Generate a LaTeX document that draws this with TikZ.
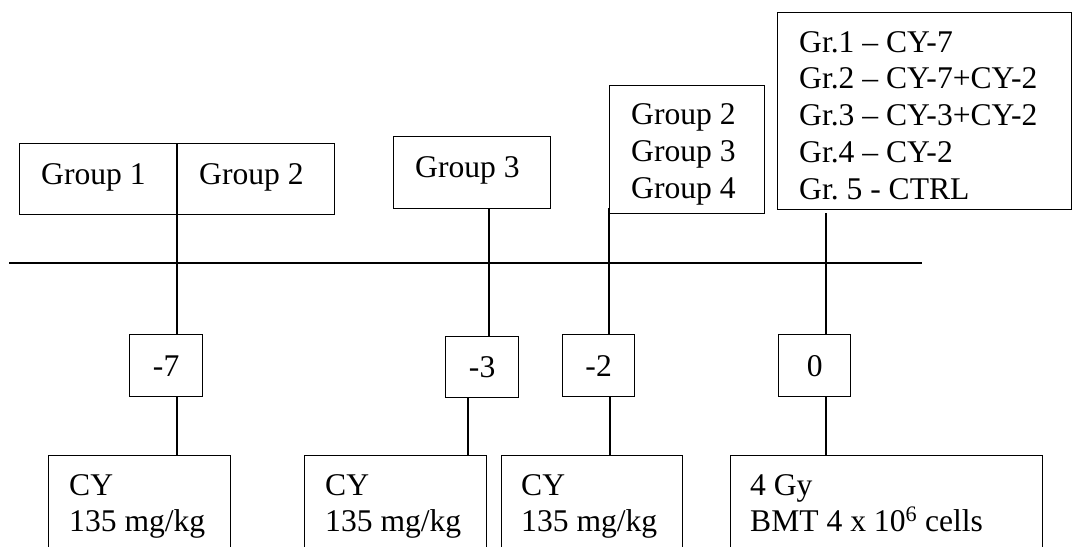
\documentclass[tikz,border=0pt]{standalone}
\usepackage{fontspec}
\setmainfont{Liberation Serif}
\frenchspacing
\begin{document}
\begin{tikzpicture}[x=1pt,y=-1pt,
  box/.style={draw, line width=1.3pt, inner sep=0pt, anchor=north west},
  num/.style={draw, line width=1.3pt, inner sep=0pt, anchor=north west, font=\fontsize{31.6}{37}\selectfont},
  lbl/.style={anchor=base west, inner sep=0pt, font=\fontsize{31.6}{37}\selectfont},
  conn/.style={line width=1.3pt}]
\useasboundingbox (0,0) rectangle (1073,546);
\clip (0,0) rectangle (1073,546);
\fill[white] (0,0) rectangle (1073,546);

% timeline
\coordinate (tl0) at (9,263);
\coordinate (tl1) at (922,263);
\draw[conn] (tl0) -- (tl1);

% top boxes
\node[box, minimum width=315pt, minimum height=71pt] (g12) at (19,143) {};
\node[box, minimum width=157pt, minimum height=72pt] (g3) at (393,136) {};
\node[box, minimum width=155pt, minimum height=128pt] (g234) at (609,85) {};
\node[box, minimum width=294pt, minimum height=197pt] (leg) at (777,12) {};

\node[lbl] (t1) at (41,184) {Group 1};
\node[lbl] (t2) at (199,184) {Group 2};
\node[lbl] (t3) at (415,177) {Group 3};
\node[lbl] (t4) at (631,124) {Group 2};
\node[lbl] (t5) at (631,161) {Group 3};
\node[lbl] (t6) at (631,198) {Group 4};
\node[lbl] (l1) at (799,52) {Gr.1 – CY-7};
\node[lbl] (l2) at (799,88) {Gr.2 – CY-7+CY-2};
\node[lbl] (l3) at (799,125) {Gr.3 – CY-3+CY-2};
\node[lbl] (l4) at (799,162) {Gr.4 – CY-2};
\node[lbl] (l5) at (799,199) {Gr. 5 - CTRL};

% day boxes
\node[num, minimum width=73pt, minimum height=62pt] (m7) at (129,334) {-7};
\node[num, minimum width=73pt, minimum height=61pt] (m3) at (445,336) {-3};
\node[num, minimum width=72pt, minimum height=62pt] (m2) at (562,334) {-2};
\node[num, minimum width=72pt, minimum height=62pt] (m0) at (778,334) {0};

% bottom boxes
\node[box, minimum width=182pt, minimum height=110pt] (cy1) at (48,455) {};
\node[box, minimum width=182pt, minimum height=110pt] (cy2) at (304,455) {};
\node[box, minimum width=181pt, minimum height=110pt] (cy3) at (501,455) {};
\node[box, minimum width=312pt, minimum height=110pt] (bmt) at (730,455) {};

\node[lbl] (c1a) at (69,495) {CY};
\node[lbl] (c1b) at (69,531) {135 mg/kg};
\node[lbl] (c2a) at (325,495) {CY};
\node[lbl] (c2b) at (325,531) {135 mg/kg};
\node[lbl] (c3a) at (521,495) {CY};
\node[lbl] (c3b) at (521,531) {135 mg/kg};
\node[lbl] (c4a) at (750,495) {4 Gy};
\node[lbl] (c4b) at (750,531) {BMT 4 x 10\textsuperscript{6} cells};

% connectors
\coordinate (k7a) at (177,143);
\coordinate (k7b) at (177,396);
\coordinate (k3a) at (489,208);
\coordinate (k3b) at (468,397);
\coordinate (k2a) at (609,208);
\coordinate (k2b) at (610,396);
\coordinate (k0a) at (826,213);
\coordinate (k0b) at (826,396);

\draw[conn] (k7a) -- (k7a |- m7.north);
\draw[conn] (k7b) -- (k7b |- cy1.north);
\draw[conn] (k3a) -- (k3a |- m3.north);
\draw[conn] (k3b) -- (k3b |- cy2.north);
\draw[conn] (k2a) -- (k2a |- m2.north);
\draw[conn] (k2b) -- (k2b |- cy3.north);
\draw[conn] (k0a) -- (k0a |- m0.north);
\draw[conn] (k0b) -- (k0b |- bmt.north);
\end{tikzpicture}
\end{document}
